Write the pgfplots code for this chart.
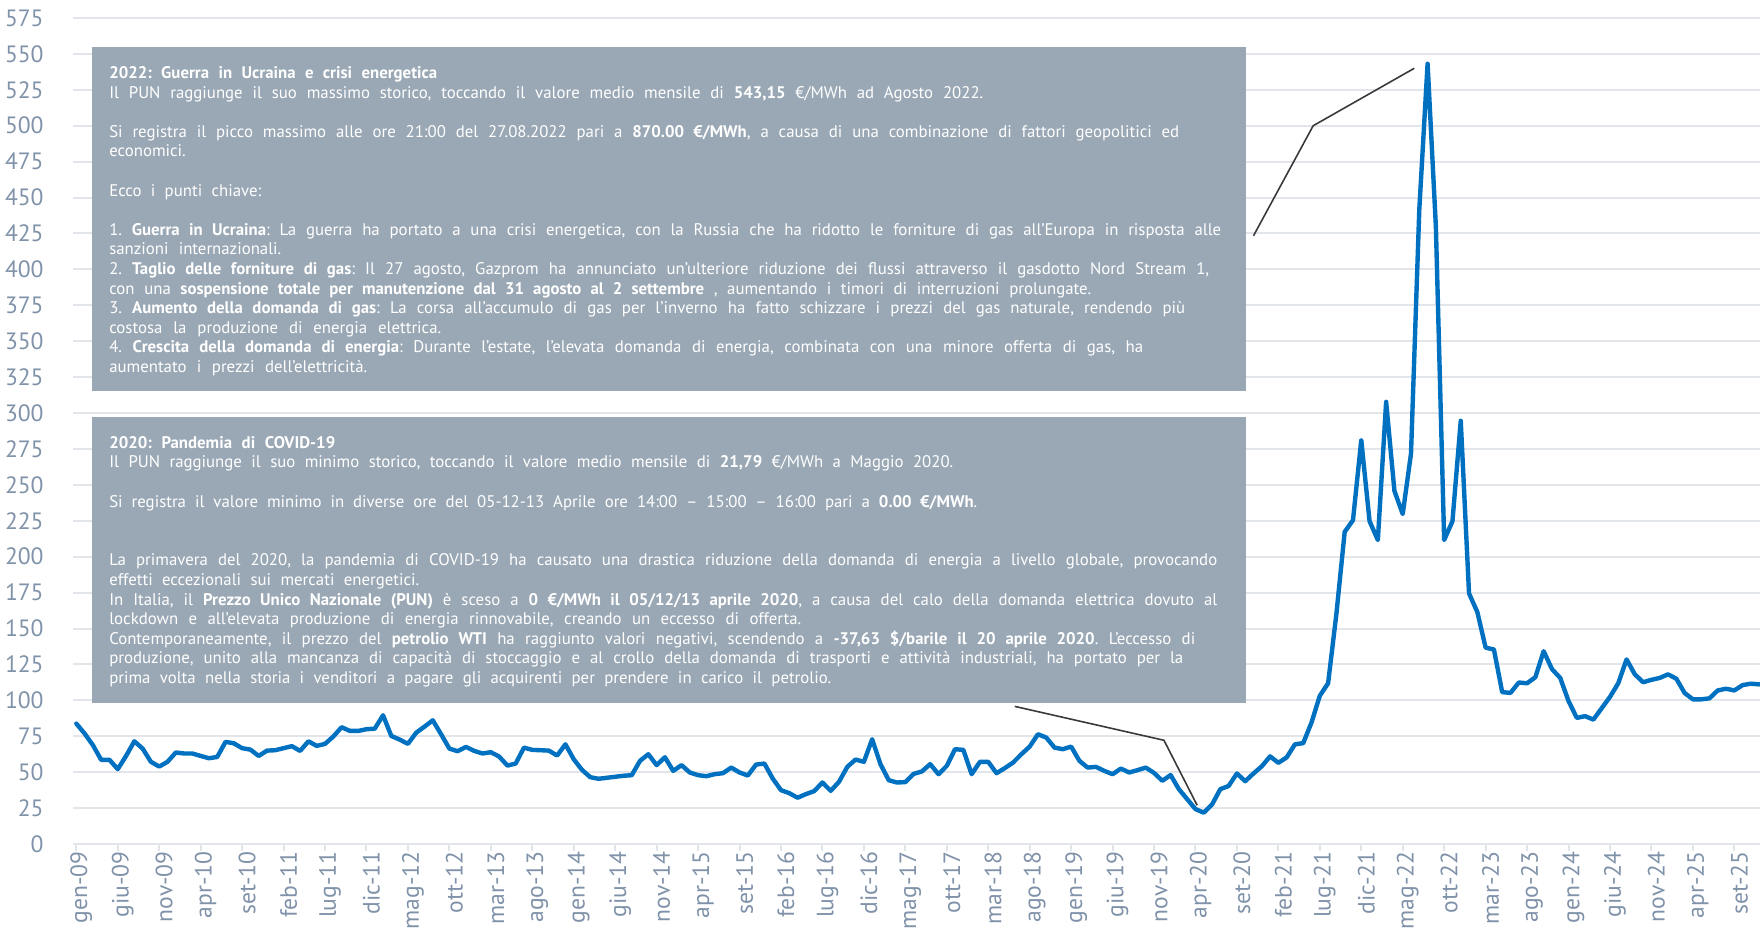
\documentclass[border=0pt]{standalone}
\usepackage{fontspec}
\setmainfont{PT Sans}
\usepackage{pgfplots}
\pgfplotsset{compat=1.18}
\definecolor{linec}{HTML}{0070C0}
\definecolor{gridc}{HTML}{E2E6EB}
\definecolor{tickc}{HTML}{8092A9}
\definecolor{boxc}{HTML}{9AA8B5}
\definecolor{connc}{HTML}{3A3A3A}
\newcommand{\bx}{\fontsize{8.4}{9.8}\selectfont\frenchspacing}
\newcommand{\tline}[4]{\node[anchor=base west, inner sep=0pt, text=white, font=\bx] at ([xshift=8.4pt,yshift=-#2pt]#1) {\makebox[#3pt][s]{#4}};}
\newcommand{\nline}[3]{\node[anchor=base west, inner sep=0pt, text=white, font=\bx] at ([xshift=8.4pt,yshift=-#2pt]#1) {#3};}
\begin{document}
\begin{tikzpicture}
\begin{axis}[name=ax, scale only axis, width=843.5pt, height=413pt,
  xmin=-0.4, xmax=203.1, ymin=0, ymax=575,
  ytick={0,25,...,575},
  xtick={0,5,...,200},
  xticklabels={gen-09,giu-09,nov-09,apr-10,set-10,feb-11,lug-11,dic-11,mag-12,ott-12,mar-13,ago-13,gen-14,giu-14,nov-14,apr-15,set-15,feb-16,lug-16,dic-16,mag-17,ott-17,mar-18,ago-18,gen-19,giu-19,nov-19,apr-20,set-20,feb-21,lug-21,dic-21,mag-22,ott-22,mar-23,ago-23,gen-24,giu-24,nov-24,apr-25,set-25},
  axis y line*=left, axis x line*=bottom,
  y axis line style={draw=none},
  x axis line style={draw=gridc, line width=1pt, -},
  ymajorgrids, grid style={gridc, line width=1pt},
  ytick style={draw=none},
  xtick style={draw=gridc, line width=1pt},
  tick align=outside, major tick length=3.5pt,
  ticklabel style={font=\fontsize{11.8}{12}\selectfont, text=tickc},
  yticklabel style={anchor=east, inner sep=0pt, xshift=-11pt},
  xticklabel style={rotate=90, anchor=east, inner sep=0pt, yshift=-2.5pt},
  /pgf/number format/assume math mode=true,
]
\addplot[linec, line width=2.2pt, line join=round, line cap=round] coordinates {
(0,83.8)(1,76.9)(2,68.8)(3,58.6)(4,58.6)(5,52.1)(6,61.3)(7,71.5)(8,66.4)(9,57.2)
(10,53.9)(11,57.2)(12,63.7)(13,63.0)(14,63.0)(15,61.3)(16,59.7)(17,60.6)(18,71.1)(19,70.1)
(20,66.7)(21,65.7)(22,61.3)(23,65.0)(24,65.3)(25,66.7)(26,68.1)(27,64.8)(28,71.5)(29,68.3)
(30,69.7)(31,74.8)(32,81.3)(33,78.7)(34,78.7)(35,79.9)(36,80.3)(37,89.6)(38,75.2)(39,72.7)
(40,69.7)(41,77.5)(42,81.7)(43,86.1)(44,76.4)(45,66.4)(46,64.6)(47,67.6)(48,64.8)(49,63.0)
(50,63.9)(51,60.9)(52,54.6)(53,56.0)(54,67.1)(55,65.5)(56,65.3)(57,65.0)(58,61.6)(59,69.4)
(60,59.0)(61,51.6)(62,46.5)(63,45.4)(64,46.1)(65,46.8)(66,47.5)(67,47.9)(68,57.9)(69,62.5)
(70,54.9)(71,60.4)(72,50.9)(73,54.9)(74,49.8)(75,47.9)(76,47.2)(77,48.6)(78,49.3)(79,53.2)
(80,49.8)(81,47.7)(82,55.3)(83,56.0)(84,45.6)(85,37.5)(86,35.4)(87,32.2)(88,34.7)(89,36.8)
(90,42.8)(91,37.0)(92,43.3)(93,53.7)(94,58.8)(95,57.2)(96,72.9)(97,55.6)(98,44.4)(99,42.8)
(100,43.1)(101,48.8)(102,50.5)(103,55.6)(104,48.6)(105,54.4)(106,66.0)(107,65.5)(108,48.6)(109,57.2)
(110,57.2)(111,49.3)(112,52.8)(113,56.7)(114,62.5)(115,67.8)(116,76.4)(117,74.1)(118,67.1)(119,66.0)
(120,67.8)(121,57.9)(122,53.2)(123,53.7)(124,50.9)(125,48.6)(126,52.5)(127,49.8)(128,51.4)(129,53.2)
(130,49.5)(131,44.0)(132,48.0)(133,38.2)(134,31.2)(135,24.3)(136,21.8)(137,27.5)(138,38.2)(139,40.4)
(140,49.1)(141,43.7)(142,49.1)(143,54.1)(144,61.0)(145,56.5)(146,60.3)(147,69.4)(148,70.2)(149,84.6)
(150,103.2)(151,111.9)(152,160.2)(153,217.3)(154,225.4)(155,281.2)(156,224.7)(157,211.6)(158,307.8)(159,245.8)
(160,229.7)(161,271.8)(162,441.7)(163,543.15)(164,429.9)(165,211.6)(166,224.7)(167,294.6)(168,174.4)(169,161.5)
(170,136.7)(171,135.4)(172,105.7)(173,105.2)(174,112.4)(175,111.9)(176,116.1)(177,134.2)(178,121.8)(179,115.6)
(180,99.5)(181,87.8)(182,89.0)(183,86.6)(184,94.5)(185,102.4)(186,111.9)(187,128.5)(188,118.1)(189,112.6)
(190,114.3)(191,115.6)(192,118.1)(193,115.1)(194,105.2)(195,100.7)(196,100.7)(197,101.4)(198,106.9)(199,108.1)
(200,106.9)(201,110.6)(202,111.6)(203,111.1)
};
\addplot[connc, line width=0.8pt] coordinates {(142.0,423.4)(149.2,500)(161.4,540)};
\addplot[connc, line width=0.8pt] coordinates {(113.2,95.8)(131.2,72.2)(135.2,27)};
\coordinate (UB) at (axis cs:1.9,554.5);
\coordinate (UBbr) at (axis cs:141.1,315);
\coordinate (LB) at (axis cs:1.9,297);
\coordinate (LBbr) at (axis cs:141.1,98.5);
\end{axis}
\fill[boxc] (UB) rectangle (UBbr);
\fill[boxc] (LB) rectangle (LBbr);
% upper box
\tline{UB}{15.5}{164}{\textbf{2022: Guerra in Ucraina e crisi energetica}}
\tline{UB}{25.3}{437}{Il PUN raggiunge il suo massimo storico, toccando il valore medio mensile di \textbf{543,15} €/MWh ad Agosto 2022.}
\tline{UB}{44.9}{535}{Si registra il picco massimo alle ore 21:00 del 27.08.2022 pari a \textbf{870.00 €/MWh}, a causa di una combinazione di fattori geopolitici ed}
\nline{UB}{54.7}{economici.}
\tline{UB}{74.3}{76}{Ecco i punti chiave:}
\tline{UB}{93.9}{556}{1. \textbf{Guerra in Ucraina}: La guerra ha portato a una crisi energetica, con la Russia che ha ridotto le forniture di gas all'Europa in risposta alle}
\tline{UB}{103.7}{86}{sanzioni internazionali.}
\tline{UB}{113.5}{550}{2. \textbf{Taglio delle forniture di gas}: Il 27 agosto, Gazprom ha annunciato un'ulteriore riduzione dei flussi attraverso il gasdotto Nord Stream 1,}
\tline{UB}{123.3}{491}{con una \textbf{sospensione totale per manutenzione dal 31 agosto al 2 settembre} , aumentando i timori di interruzioni prolungate.}
\tline{UB}{133.1}{538}{3. \textbf{Aumento della domanda di gas}: La corsa all'accumulo di gas per l'inverno ha fatto schizzare i prezzi del gas naturale, rendendo più}
\tline{UB}{142.9}{166}{costosa la produzione di energia elettrica.}
\tline{UB}{152.7}{517}{4. \textbf{Crescita della domanda di energia}: Durante l'estate, l'elevata domanda di energia, combinata con una minore offerta di gas, ha}
\tline{UB}{162.5}{129}{aumentato i prezzi dell'elettricità.}
% lower box
\tline{LB}{15.5}{113}{\textbf{2020: Pandemia di COVID-19}}
\tline{LB}{25.3}{422}{Il PUN raggiunge il suo minimo storico, toccando il valore medio mensile di \textbf{21,79} €/MWh a Maggio 2020.}
\tline{LB}{44.9}{434}{Si registra il valore minimo in diverse ore del 05-12-13 Aprile ore 14:00 – 15:00 – 16:00 pari a \textbf{0.00 €/MWh}.}
\tline{LB}{74.3}{554}{La primavera del 2020, la pandemia di COVID-19 ha causato una drastica riduzione della domanda di energia a livello globale, provocando}
\tline{LB}{84.1}{155}{effetti eccezionali sui mercati energetici.}
\tline{LB}{93.9}{554}{In Italia, il \textbf{Prezzo Unico Nazionale (PUN)} è sceso a \textbf{0 €/MWh il 05/12/13 aprile 2020}, a causa del calo della domanda elettrica dovuto al}
\tline{LB}{103.7}{346}{lockdown e all'elevata produzione di energia rinnovabile, creando un eccesso di offerta.}
\tline{LB}{113.5}{543}{Contemporaneamente, il prezzo del \textbf{petrolio WTI} ha raggiunto valori negativi, scendendo a \textbf{-37,63 \$/barile il 20 aprile 2020}. L'eccesso di}
\tline{LB}{123.3}{537}{produzione, unito alla mancanza di capacità di stoccaggio e al crollo della domanda di trasporti e attività industriali, ha portato per la}
\tline{LB}{133.1}{361}{prima volta nella storia i venditori a pagare gli acquirenti per prendere in carico il petrolio.}
\pgfresetboundingbox
\path[use as bounding box] ([xshift=-36.5pt,yshift=-43.5pt]ax.south west) rectangle ([yshift=9pt]ax.north east);
\end{tikzpicture}
\end{document}
